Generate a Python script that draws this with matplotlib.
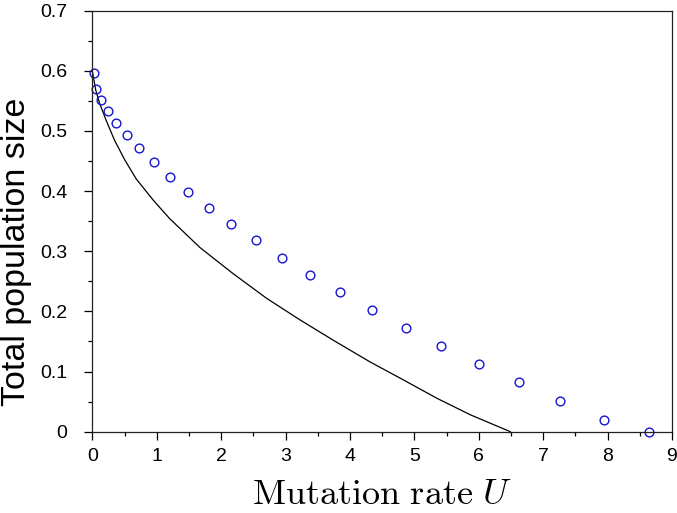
import matplotlib
matplotlib.use("Agg")
import matplotlib.pyplot as plt
from matplotlib.ticker import MultipleLocator

# simulated total population size (open circles)
sim_u = [0.016, 0.05, 0.125, 0.237, 0.369, 0.534, 0.727, 0.954, 1.21, 1.49,
         1.81, 2.15, 2.54, 2.94, 3.38, 3.84, 4.34, 4.87, 5.42, 6.01,
         6.63, 7.26, 7.94, 8.65]
sim_n = [0.596, 0.570, 0.551, 0.533, 0.513, 0.493, 0.471, 0.448, 0.424, 0.398,
         0.372, 0.346, 0.318, 0.289, 0.260, 0.232, 0.2025, 0.173, 0.1425, 0.112,
         0.082, 0.051, 0.020, 0.0]

# analytical approximation (solid line)
theory_u = [0.0, 0.05, 0.11, 0.21, 0.34, 0.50, 0.68, 0.95, 1.20, 1.67,
            2.18, 2.70, 3.22, 3.74, 4.31, 4.83, 5.35, 5.87, 6.49]
theory_n = [0.598, 0.568, 0.546, 0.518, 0.485, 0.452, 0.420, 0.384, 0.354, 0.306,
            0.263, 0.222, 0.186, 0.152, 0.116, 0.086, 0.0555, 0.028, 0.0]

plt.rcParams["font.family"] = ["Liberation Sans", "DejaVu Sans"]
plt.rcParams["mathtext.fontset"] = "cm"

fig = plt.figure(figsize=(6.77, 5.13), dpi=100)
ax = fig.add_axes([0.1366, 0.1585, 0.856, 0.821])

ax.plot(theory_u, theory_n, color="black", lw=0.9)
ax.plot(sim_u, sim_n, "o", ms=6.3, mfc="none", mec="#1515d0", mew=1.0,
        clip_on=False)

ax.set_xlim(0, 9)
ax.set_ylim(0, 0.7)
ax.xaxis.set_major_locator(MultipleLocator(1))
ax.xaxis.set_minor_locator(MultipleLocator(0.5))
ax.yaxis.set_major_locator(MultipleLocator(0.1))
ax.yaxis.set_minor_locator(MultipleLocator(0.05))
ax.yaxis.set_major_formatter(plt.FuncFormatter(lambda v, p: "0" if v == 0 else f"{v:.1f}"))
ax.tick_params(which="major", direction="out", length=6, width=0.9,
               labelsize=14)
ax.tick_params(which="minor", direction="out", length=3, width=0.9)
ax.tick_params(axis="x", which="major", pad=6)
ax.tick_params(axis="y", which="major", pad=12)
for s in ax.spines.values():
    s.set_linewidth(0.9)
    s.set_color("#222222")

ax.set_xlabel(r"$\mathrm{Mutation\ rate}\ U$", fontsize=26)
ax.xaxis.set_label_coords(0.5, -0.108)
ax.set_ylabel("Total population size", fontsize=24.5)
ax.yaxis.set_label_coords(-0.104, 0.428)

fig.savefig("out.png", dpi=100)
